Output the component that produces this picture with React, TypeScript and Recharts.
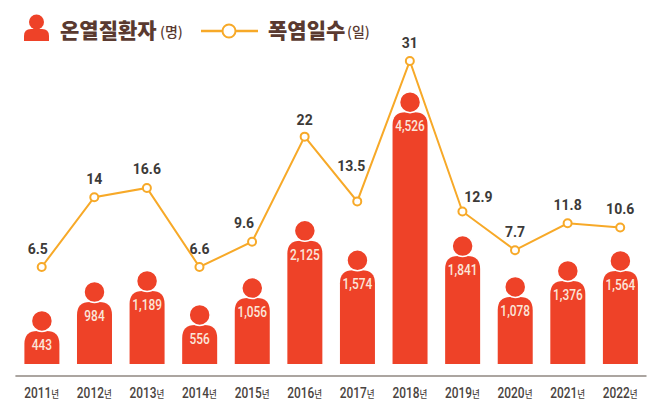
import React from "react";
import { ComposedChart, Bar, Line, XAxis, YAxis, LabelList } from "recharts";

const years = ["2011","2012","2013","2014","2015","2016","2017","2018","2019","2020","2021","2022"];
const patients = [443,984,1189,556,1056,2125,1574,4526,1841,1078,1376,1564];
const heatDayLabels = ["6.5","14","16.6","6.6","9.6","22","13.5","31","12.9","7.7","11.8","10.6"];
// Heights of the line points as drawn in the picture (the source's line is not strictly to scale).
const heatDayHeights = [6.5,14.8,15.9,6.5,9.5,22,14.3,31,13.1,8.5,11.7,11.2];

const data = years.map((y, i) => ({
  year: y,
  patients: patients[i],
  height: heatDayHeights[i],
  label: heatDayLabels[i],
}));

const RED = "#EE4228";
const ORANGE = "#F7A928";
const BROWN = "#5A3A30";
const FONT = "Roboto, sans-serif";
const KO = "'Noto Sans CJK KR', sans-serif";
const BASE_OFFSET = 9.3;

// Hand placement of the labels that sit away from the plain "above the point" spot.
const labelNudge: Record<string, [number, number]> = {
  "6.5": [-4, 0],
  "9.6": [-8, -1],
  "13.5": [-6, -17],
  "12.9": [16, 4],
  "16.6": [0, -1],
  "22": [0, 1],
};

const fmt = (v: number) => v.toLocaleString("en-US");

function PersonBar(props: any) {
  const { x, y, width, height, value } = props;
  const bottom = y + height + BASE_OFFSET;
  const r = 13;
  const cx = x + width / 2;
  const d = `M${x},${bottom} L${x},${y + r} Q${x},${y} ${x + r},${y} L${x + width - r},${y} Q${x + width},${y} ${x + width},${y + r} L${x + width},${bottom} Z`;
  return (
    <g>
      <path d={d} fill={RED} />
      <circle cx={cx} cy={y - 10} r={10.5} fill={RED} stroke="#fff" strokeWidth={1.5} />
      <g transform={`translate(${cx},${y + 19}) scale(0.85,1)`}>
        <text textAnchor="middle" fill="#fbe6da" fontSize={14} fontWeight={500} fontFamily={FONT}>
          {fmt(value)}
        </text>
      </g>
    </g>
  );
}

function YearTick(props: any) {
  const { x, y, payload } = props;
  return (
    <g transform={`translate(${x},${y}) scale(0.85,1)`}>
      <text textAnchor="middle" fill="#4a4340" fontFamily={FONT} fontWeight={500} fontSize={14}>
        {payload.value}
        <tspan fontSize={10} fontFamily={KO} fontWeight={500}>년</tspan>
      </text>
    </g>
  );
}

function DayLabel(props: any) {
  const { x, y, width, value } = props;
  const [dx, dy] = labelNudge[value] ?? [0, 0];
  return (
    <text
      x={x + (width ?? 0) / 2 + dx}
      y={y - 13 + dy}
      textAnchor="middle"
      fill="#3c3a38"
      fontSize={14}
      fontWeight={700}
      fontFamily={FONT}
    >
      {value}
    </text>
  );
}

function LegendOverlay() {
  return (
    <svg width={662} height={60} style={{ position: "absolute", left: 0, top: 0 }}>
      <circle cx={36.5} cy={22} r={7.5} fill={RED} />
      <path d="M24,41 L24,36 Q24,29 31,29 L42,29 Q49,29 49,36 L49,41 Z" fill={RED} />
      <text x={60} y={38} fontFamily={KO} fontWeight={900} fontSize={21} fill={BROWN}>
        온열질환자
      </text>
      <text x={160} y={37} fontFamily={KO} fontWeight={500} fontSize={14} fill={BROWN}>
        (명)
      </text>
      <line x1={201} x2={258} y1={31} y2={31} stroke={ORANGE} strokeWidth={2.5} />
      <circle cx={229} cy={31} r={6.5} fill="#fff" stroke={ORANGE} strokeWidth={2} />
      <text x={268} y={38} fontFamily={KO} fontWeight={900} fontSize={21} fill={BROWN}>
        폭염일수
      </text>
      <text x={347} y={37} fontFamily={KO} fontWeight={500} fontSize={14} fill={BROWN}>
        (일)
      </text>
    </svg>
  );
}

export default function App() {
  return (
    <div style={{ position: "absolute", left: 0, top: 0, width: 662, height: 411, background: "#fff" }}>
      <ComposedChart
        width={662}
        height={411}
        data={data}
        margin={{ top: 20, right: 15.5, bottom: 0, left: 15.4 }}
      >
        <XAxis
          dataKey="year"
          interval={0}
          tickLine={false}
          axisLine={{ stroke: "#8f8781", strokeWidth: 1.5 }}
          tick={<YearTick />}
          tickMargin={16}
          height={35}
        />
        <YAxis yAxisId="bars" hide domain={[-397, 6245]} />
        <YAxis yAxisId="line" hide domain={[-6.46, 35.87]} />
        <Bar yAxisId="bars" dataKey="patients" barSize={35} shape={<PersonBar />} isAnimationActive={false} />
        <Line
          yAxisId="line"
          dataKey="height"
          stroke={ORANGE}
          strokeWidth={2}
          dot={{ r: 4, fill: "#fff", stroke: ORANGE, strokeWidth: 2 }}
          isAnimationActive={false}
        >
          <LabelList dataKey="label" content={<DayLabel />} />
        </Line>
      </ComposedChart>
      <LegendOverlay />
    </div>
  );
}
